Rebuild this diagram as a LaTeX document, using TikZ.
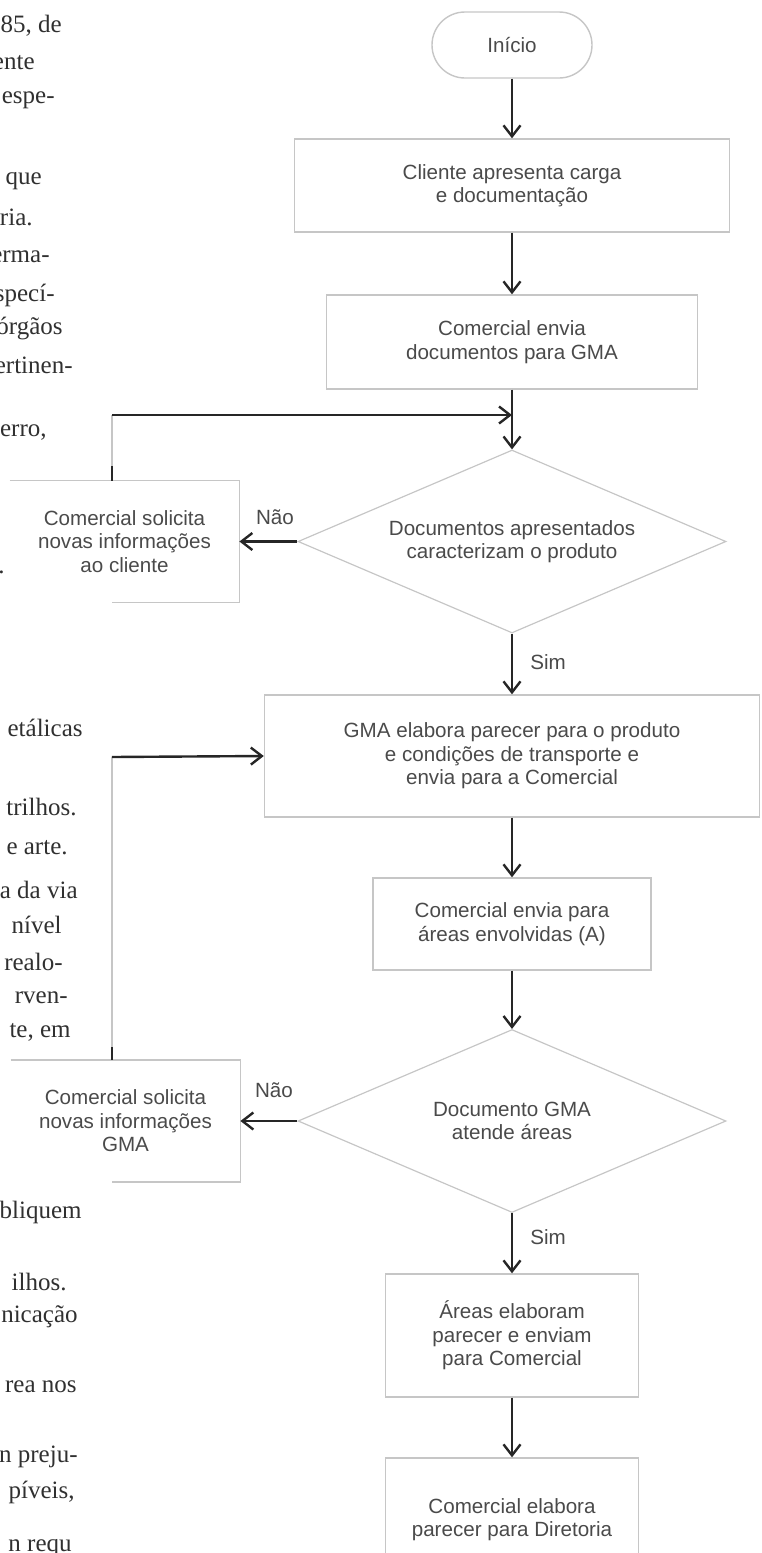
\documentclass[tikz,border=0pt]{standalone}
\usepackage{fontspec}
\setmainfont{Liberation Sans}
\newfontfamily\pagefont{Liberation Serif}
\usepackage{xcolor}
\usepackage{tikz}
\usetikzlibrary{
    positioning,
    arrows.meta,
    shapes.geometric,
}
\definecolor{boxgray}{HTML}{C6C6C6}
\definecolor{txtgray}{HTML}{4A4A4A}
\definecolor{arrowdark}{HTML}{262626}
\definecolor{pagetext}{HTML}{303030}

\begin{document}
\begin{tikzpicture}[
    x=0.5pt, y=-0.5pt,
    every node/.style={font=\fontsize{10.3}{11.75}\selectfont, text=txtgray},
    box/.style={rectangle, draw=boxgray, line width=0.7pt, align=center, inner sep=0pt},
    term/.style={box, rounded corners=16.5pt, minimum width=80pt, minimum height=33pt},
    decision/.style={diamond, draw=boxgray, line width=0.6pt, aspect=2.34,
                     minimum width=214pt, minimum height=91.5pt, inner sep=0pt, align=center},
    side/.style={rectangle, minimum width=114.5pt, minimum height=60.5pt, align=center, inner sep=0pt},
    edge/.style={draw=boxgray, line width=0.7pt},
    arrow/.style={-{Straight Barb[length=5.5pt, width=8.5pt]}, line width=1.2pt, arrowdark},
    tick/.style={line width=1.2pt, arrowdark},
    page/.style={font=\pagefont\fontsize{12.5}{14}\selectfont, text=pagetext, anchor=east, inner sep=0pt},
]
    \useasboundingbox (0,0) rectangle (761,1553);

    % Page text cut at the left margin
    \node[page] (l1) at (62,26) {85, de};
    \node[page] (l2) at (35,63) {ente};
    \node[page] (l3) at (55,100) {e espe-};
    \node[page] (l4) at (42,181) {que};
    \node[page] (l5) at (33,217) {ria.};
    \node[page] (l6) at (50,259) {perma-};
    \node[page] (l7) at (55,295) {especí-};
    \node[page] (l8) at (63,329) {órgãos};
    \node[page] (l9) at (73,365) {ertinen-};
    \node[page] (l10) at (47,433) {erro,};
    \node[page] (l11) at (5,572) {.};
    \node[page] (l12) at (83,728) {etálicas};
    \node[page] (l13) at (77,807) {trilhos.};
    \node[page] (l14) at (68,848) {e arte.};
    \node[page] (l15) at (78,890) {a da via};
    \node[page] (l16) at (62,925) {nível};
    \node[page] (l17) at (63,962) {realo-};
    \node[page] (l18) at (68,998) {rven-};
    \node[page] (l19) at (71,1032) {te, em};
    \node[page] (l20) at (82,1212) {bliquem};
    \node[page] (l21) at (67,1282) {ilhos.};
    \node[page] (l22) at (78,1317) {nicação};
    \node[page] (l23) at (77,1387) {rea nos};
    \node[page] (l24) at (78,1457) {n preju-};
    \node[page] (l25) at (75,1492) {píveis,};
    \node[page] (l26) at (72,1548) {n requ};

    % Main column
    \node[term] (inicio) at (512,45) {Início};
    \node[box, minimum width=217.5pt, minimum height=46.5pt] (cliente) at (512,185.5)
        {Cliente apresenta carga\\e documentação};
    \node[box, minimum width=185.5pt, minimum height=47pt] (envia) at (512,342)
        {Comercial envia\\documentos para GMA};
    \node[decision] (docs) at (512,541.5) {Documentos apresentados\\caracterizam o produto};
    \node[box, minimum width=247.5pt, minimum height=61pt] (gma) at (512,756)
        {GMA elabora parecer para o produto\\e condições de transporte e\\envia para a Comercial};
    \node[box, minimum width=139pt, minimum height=46pt] (areas) at (512,924)
        {Comercial envia para\\áreas envolvidas (A)};
    \node[decision] (atende) at (512,1121) {Documento GMA\\atende áreas};
    \node[box, minimum width=126.5pt, minimum height=61.5pt] (parecer) at (512,1335.5)
        {Áreas elaboram\\parecer e enviam\\para Comercial};
    \node[box, minimum width=126.5pt, minimum height=61.5pt] (diretoria) at (512,1519.5)
        {Comercial elabora\\parecer para Diretoria};

    % Side boxes
    \node[side] (info1) at (124.5,541.5) {Comercial solicita\\novas informações\\ao cliente};
    \node[side] (info2) at (125.5,1121) {Comercial solicita\\novas informações\\GMA};
    \coordinate (loop1) at (112,415);
    \coordinate (join1) at (512,415);
    \coordinate (tick1) at (112,466);
    \coordinate (loop2) at (112,757);
    \coordinate (tick2) at (112,1047);
    \draw[edge] (info1.north west) -- (info1.north east) -- (info1.south east) -- (info1.south -| loop1);
    \draw[edge] (info2.north west) -- (info2.north east) -- (info2.south east) -- (info2.south -| loop2);

    % Labels
    \node (nao1) at (275,517) {Não};
    \node (sim1) at (548,662) {Sim};
    \node (nao2) at (274,1090) {Não};
    \node (sim2) at (548,1237) {Sim};

    % Arrows
    \draw[arrow] (inicio) -- (cliente);
    \draw[arrow] (cliente) -- (envia);
    \draw[arrow] (envia) -- (docs);
    \draw[arrow] (docs) -- (gma);
    \draw[arrow] (docs.west) -- (info1.east);
    \draw[arrow] (gma) -- (areas);
    \draw[arrow] (areas) -- (atende);
    \draw[arrow] (atende) -- (parecer);
    \draw[arrow] (atende.west) -- (info2.east);
    \draw[arrow] (parecer) -- (diretoria);

    % Return loops
    \draw[tick] (tick1) -- (info1.north -| tick1);
    \draw[edge] (tick1) -- (loop1);
    \draw[arrow] (loop1) -- (join1);
    \draw[tick] (tick2) -- (info2.north -| tick2);
    \draw[edge] (tick2) -- (loop2);
    \draw[arrow] (loop2) -- (gma.west);
\end{tikzpicture}
\end{document}
